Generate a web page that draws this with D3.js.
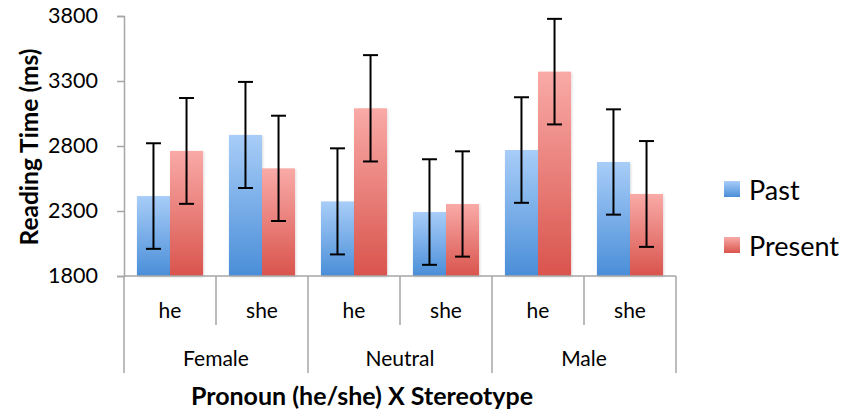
<!DOCTYPE html>
<html>
<head>
<meta charset="utf-8">
<script src="https://cdn.jsdelivr.net/npm/d3@7"></script>
<style>
  body { margin: 0; background: #fff; }
  svg { display: block; font-family: Lato, "Open Sans", sans-serif; }
</style>
</head>
<body>
<svg id="chart" width="844" height="414"></svg>
<script>
const groups = ["Female", "Neutral", "Male"];
const pronouns = ["he", "she"];
const series = ["Past", "Present"];
const pastValues = [2415, 2885, 2374, 2292, 2769, 2677];
const presentValues = [2762, 2628, 3090, 2354, 3372, 2431];
const pastErrors = [406, 408, 408, 406, 406, 405];
const presentErrors = [407, 405, 409, 405, 406, 407];
const yTicks = [1800, 2300, 2800, 3300, 3800];

const svg = d3.select("#chart");
const mLeft = 124, mRight = 676, mTop = 16, mBottom = 276;

const cats = [];
groups.forEach(g => pronouns.forEach(p => cats.push(g + "|" + p)));

const x = d3.scaleBand().domain(cats).range([mLeft, mRight]).paddingInner(0).paddingOuter(0);
const xSeries = d3.scaleBand().domain(series).range([0, x.bandwidth()]).paddingInner(0).paddingOuter(0.3913);
const y = d3.scaleLinear().domain([1800, 3800]).range([mBottom, mTop]);

const defs = svg.append("defs");
const grads = {
  Past: ["#a8cdf8", "#4a8ed8"],
  Present: ["#f9aaa7", "#d9544d"]
};
Object.entries(grads).forEach(([k, c]) => {
  const g = defs.append("linearGradient").attr("id", "g" + k)
    .attr("x1", 0).attr("y1", 0).attr("x2", 0).attr("y2", 1);
  g.append("stop").attr("offset", "0%").attr("stop-color", c[0]);
  g.append("stop").attr("offset", "100%").attr("stop-color", c[1]);
});
const f = defs.append("filter").attr("id", "shadow").attr("x", "-20%").attr("y", "-20%").attr("width", "140%").attr("height", "140%");
f.append("feDropShadow").attr("dx", 1).attr("dy", 1).attr("stdDeviation", 1).attr("flood-color", "#000").attr("flood-opacity", 0.15);

// y axis
const yAxis = d3.axisLeft(y).tickValues(yTicks).tickSize(7).tickPadding(19).tickFormat(d3.format("d"));
const ya = svg.append("g").attr("transform", `translate(${mLeft},0)`).call(yAxis);
ya.select(".domain").attr("stroke", "#a6a6a6").attr("stroke-width", 1.5);
ya.selectAll(".tick line").attr("stroke", "#a6a6a6").attr("stroke-width", 1.5);
ya.selectAll(".tick text").attr("font-size", 21.5).attr("fill", "#000").attr("font-family", "Lato, sans-serif");

// bars
const data = [];
cats.forEach((c, i) => {
  data.push({ cat: c, s: "Past", v: pastValues[i], e: pastErrors[i] });
  data.push({ cat: c, s: "Present", v: presentValues[i], e: presentErrors[i] });
});
svg.append("g").selectAll("rect").data(data).join("rect")
  .attr("x", d => x(d.cat) + xSeries(d.s))
  .attr("width", xSeries.bandwidth())
  .attr("y", d => y(d.v))
  .attr("height", d => y(1800) - y(d.v))
  .attr("fill", d => `url(#g${d.s})`)
  .attr("filter", "url(#shadow)");

// error bars
const eb = svg.append("g").attr("stroke", "#000").attr("stroke-width", 2);
data.forEach(d => {
  const cx = x(d.cat) + xSeries(d.s) + xSeries.bandwidth() / 2;
  eb.append("line").attr("x1", cx).attr("x2", cx).attr("y1", y(d.v + d.e)).attr("y2", y(d.v - d.e));
  eb.append("line").attr("x1", cx - 7.5).attr("x2", cx + 7.5).attr("y1", y(d.v + d.e)).attr("y2", y(d.v + d.e));
  eb.append("line").attr("x1", cx - 7.5).attr("x2", cx + 7.5).attr("y1", y(d.v - d.e)).attr("y2", y(d.v - d.e));
});

// x axis baseline & category dividers
const ax = svg.append("g").attr("stroke", "#a6a6a6").attr("stroke-width", 1.5);
ax.append("line").attr("x1", mLeft).attr("x2", mRight).attr("y1", mBottom).attr("y2", mBottom);
cats.forEach((c, i) => {
  const xp = x(c);
  const isGroup = i % 2 === 0;
  ax.append("line").attr("x1", xp).attr("x2", xp).attr("y1", mBottom).attr("y2", isGroup ? 373 : 325);
});
ax.append("line").attr("x1", mRight).attr("x2", mRight).attr("y1", mBottom).attr("y2", 373);

// pronoun labels
svg.append("g").selectAll("text").data(cats).join("text")
  .attr("x", d => x(d) + x.bandwidth() / 2)
  .attr("y", 318)
  .attr("text-anchor", "middle")
  .attr("font-size", 21)
  .text(d => d.split("|")[1]);

// group labels
svg.append("g").selectAll("text").data(groups).join("text")
  .attr("x", g => x(g + "|he") + x.bandwidth())
  .attr("y", 366)
  .attr("text-anchor", "middle")
  .attr("font-size", 21)
  .text(g => g);

// axis titles
svg.append("text")
  .attr("x", 362).attr("y", 405)
  .attr("text-anchor", "middle")
  .attr("font-size", 25).attr("font-weight", "bold")
  .text("Pronoun (he/she) X Stereotype");
svg.append("text")
  .attr("transform", "translate(38,147) rotate(-90)")
  .attr("text-anchor", "middle")
  .attr("font-size", 24.5).attr("font-weight", "bold")
  .text("Reading Time (ms)");

// legend
const lg = svg.append("g");
series.forEach((s, i) => {
  const yy = 181 + i * 56;
  lg.append("rect").attr("x", 724).attr("y", yy).attr("width", 16).attr("height", 16)
    .attr("fill", `url(#g${s})`);
  lg.append("text").attr("x", 749).attr("y", yy + 19).attr("font-size", 27).text(s);
});
</script>
</body>
</html>
